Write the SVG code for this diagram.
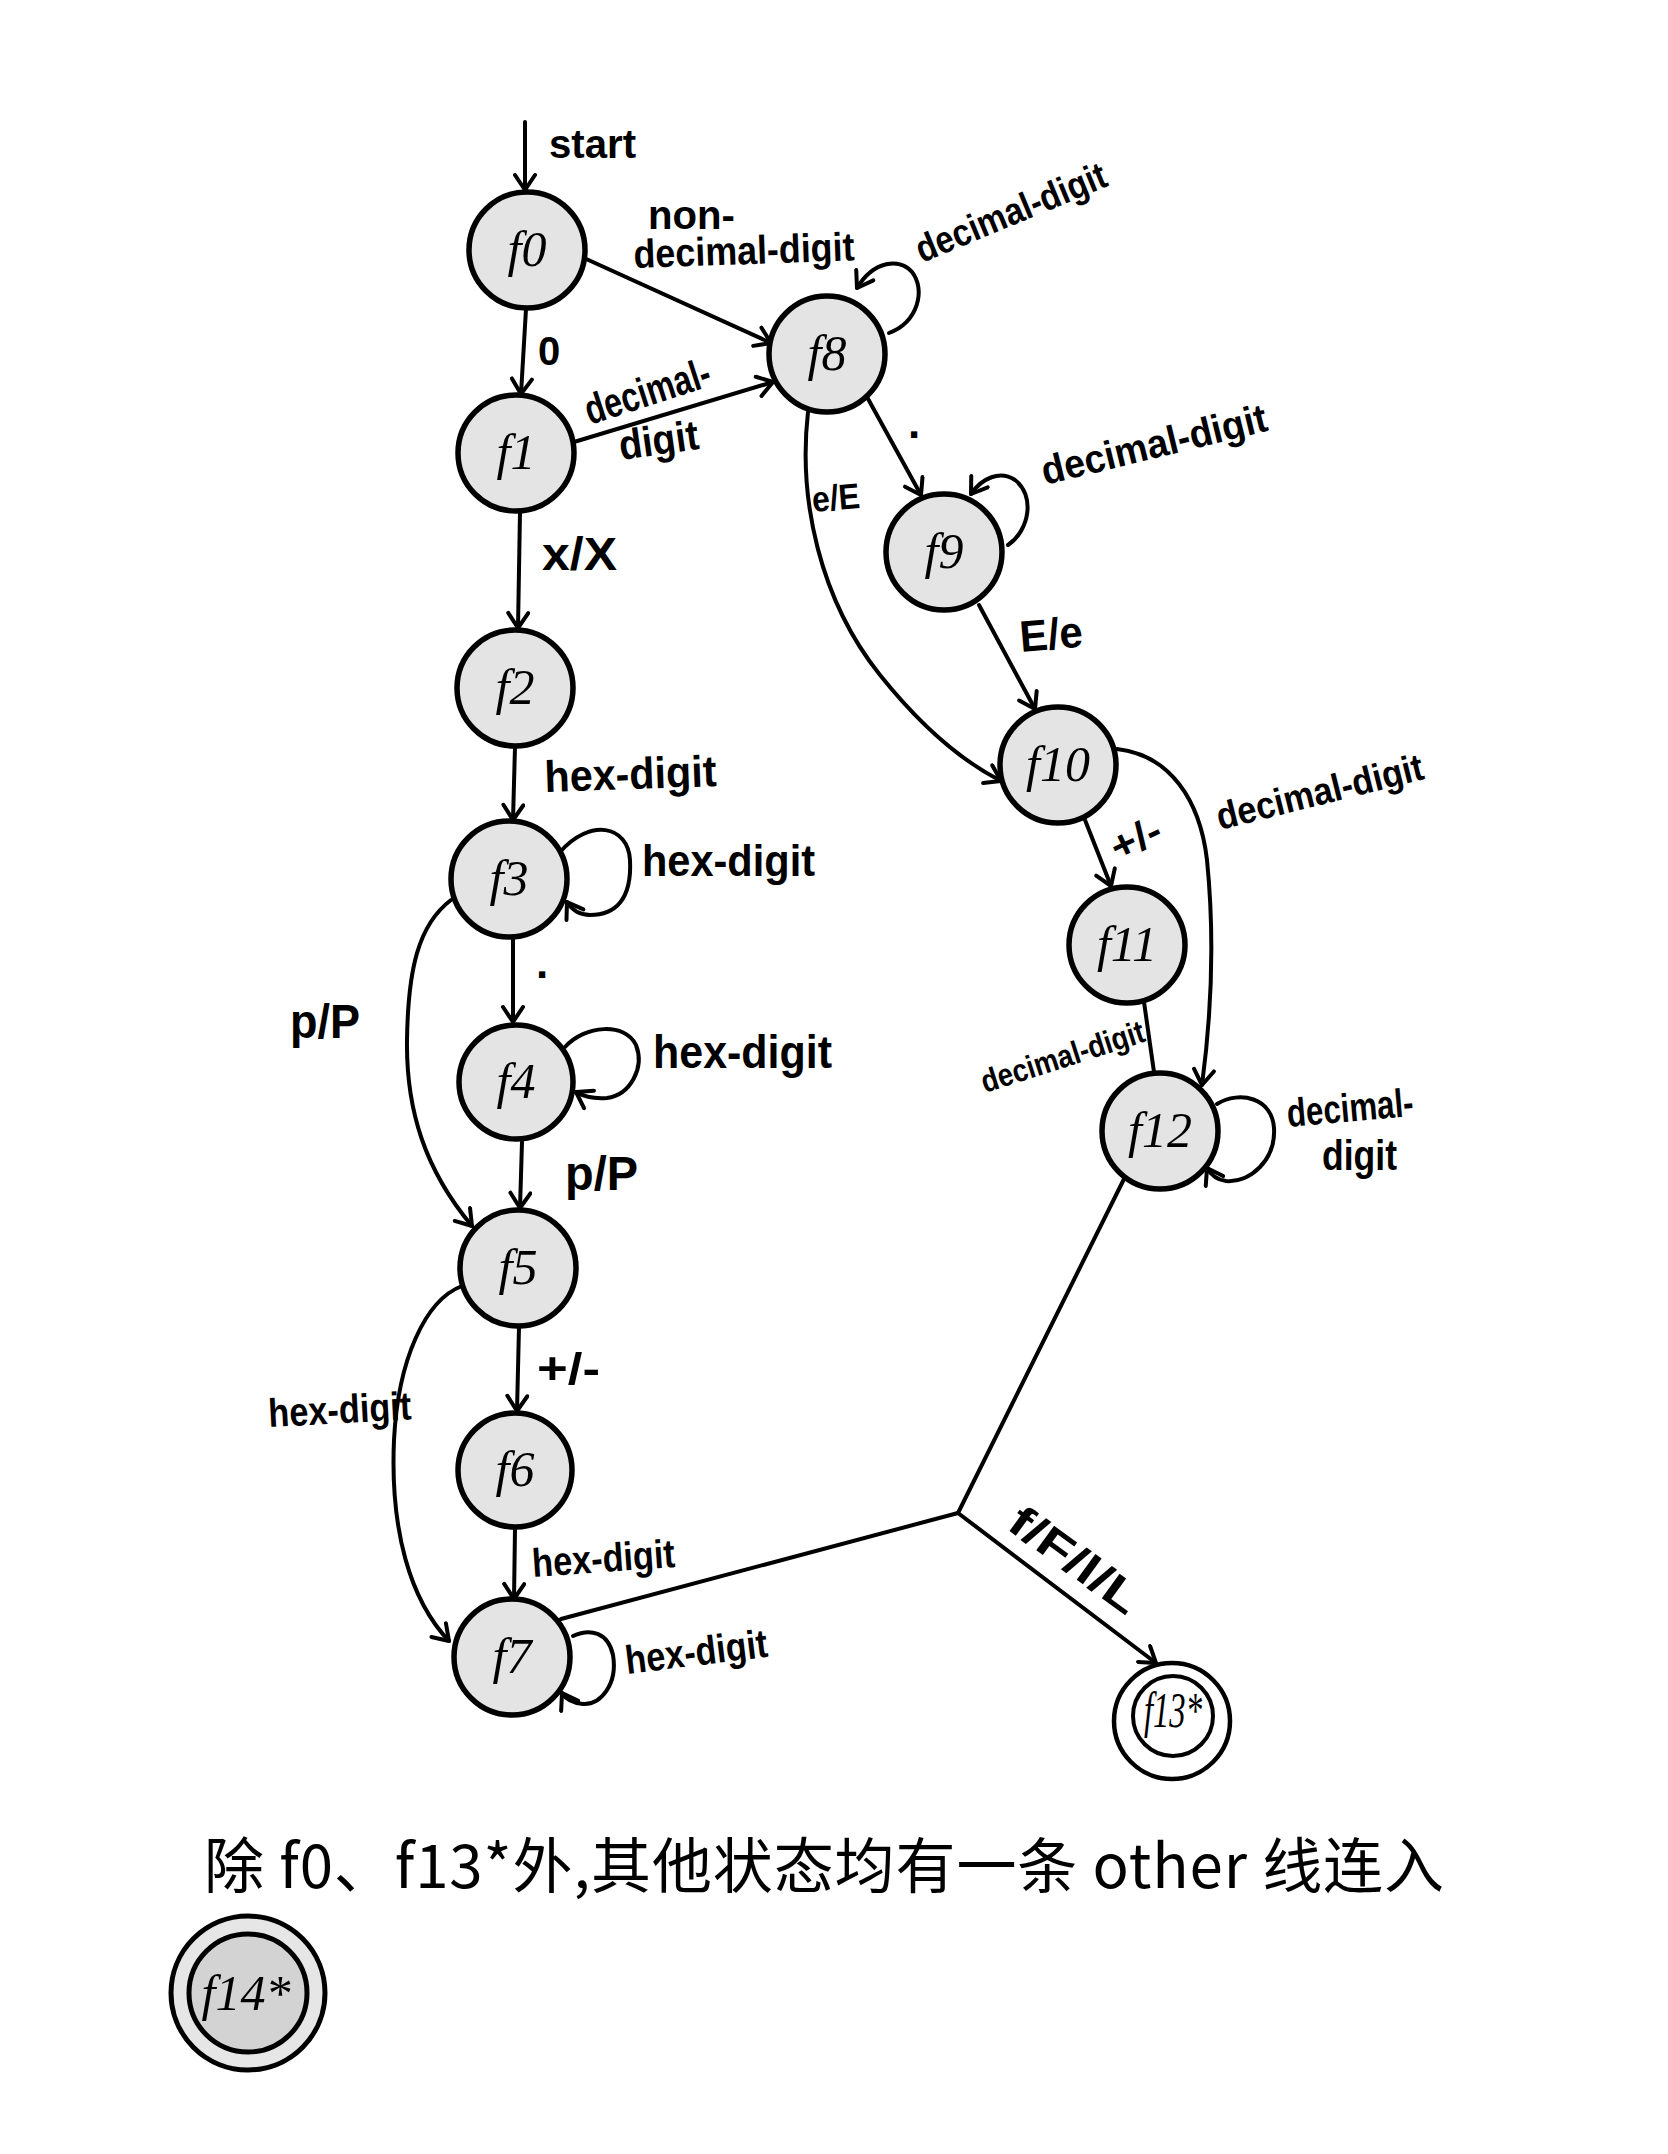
<svg xmlns="http://www.w3.org/2000/svg" width="1668" height="2154" viewBox="0 0 1668 2154">
<style>
.node circle{fill:#e4e4e4;stroke:#000;stroke-width:5.5}
.nl{font-family:"Liberation Serif","DejaVu Serif",serif;font-style:italic;font-size:50px;text-anchor:middle;fill:#000}
.edge{fill:none;stroke:#000;stroke-width:4;stroke-linecap:round;stroke-linejoin:round}
.arr{marker-end:url(#ah)}
.lbl{font-family:"Liberation Sans",Arial,sans-serif;font-weight:bold;fill:#000}
.cap{font-family:"Noto Sans CJK SC","Noto Sans CJK TC",sans-serif;font-size:60px;fill:#000}
</style>
<defs>
<marker id="ah" viewBox="0 0 24 24" refX="20" refY="12" markerWidth="24" markerHeight="24" markerUnits="userSpaceOnUse" orient="auto">
<path d="M5,2 L20,12 L5,22" fill="none" stroke="#000" stroke-width="4" stroke-linecap="round" stroke-linejoin="round"/>
</marker>
</defs>
<rect width="1668" height="2154" fill="#fff"/>

<g id="connectors">
<path class="edge arr" d="M525,122 L525,190"/>
<path class="edge arr" d="M526,309 L521,394"/>
<path class="edge arr" d="M584,258 L771,343"/>
<path class="edge arr" d="M574,442 L773,382"/>
<path class="edge arr" d="M520,512 L518,628"/>
<path class="edge arr" d="M515,747 L513,820"/>
<path class="edge arr" d="M560,852 C590,818 628,825 630,860 C632,900 615,915 590,915 C580,915 572,910 567,902"/>
<path class="edge arr" d="M513,938 L513,1022"/>
<path class="edge arr" d="M565,1047 C585,1025 625,1022 636,1045 C645,1068 630,1095 607,1098 C595,1099 583,1096 576,1092"/>
<path class="edge arr" d="M522,1142 L520,1208"/>
<path class="edge arr" d="M451,900 C418,925 408,970 407,1040 C406,1110 425,1170 472,1226"/>
<path class="edge arr" d="M519,1327 L517,1411"/>
<path class="edge arr" d="M462,1286 C425,1300 398,1360 394,1440 C390,1530 410,1600 449,1641"/>
<path class="edge arr" d="M515,1529 L514,1599"/>
<path class="edge arr" d="M573,1636 C590,1628 608,1632 613,1655 C618,1685 600,1705 583,1704 C572,1703 565,1698 562,1693"/>
<path class="edge" d="M561,1619 L958,1513"/>
<path class="edge arr" d="M1124,1179 L958,1513 L1156,1663"/>
<path class="edge arr" d="M889,333 C918,322 926,290 912,272 C900,258 874,260 857,288"/>
<path class="edge arr" d="M867,397 L921,495"/>
<path class="edge arr" d="M808,412 C798,500 820,600 880,675 C920,725 960,760 1001,781"/>
<path class="edge arr" d="M1008,545 C1030,530 1035,495 1015,480 C1000,470 982,478 971,494"/>
<path class="edge arr" d="M979,605 L1035,709"/>
<path class="edge arr" d="M1085,820 L1111,886"/>
<path class="edge arr" d="M1117,749 C1170,755 1200,800 1207,860 C1214,930 1212,1010 1202,1085"/>
<path class="edge" d="M1144,1002 L1154,1072"/>
<path class="edge arr" d="M1217,1104 C1240,1090 1272,1098 1274,1128 C1276,1160 1250,1183 1226,1181 C1218,1180 1211,1175 1207,1168"/>
</g>

<g id="labels">
<text class="lbl" x="549" y="158" font-size="40" textLength="87" lengthAdjust="spacingAndGlyphs">start</text>
<text class="lbl" x="648" y="229" font-size="40" textLength="87" lengthAdjust="spacingAndGlyphs">non-</text>
<text class="lbl" x="634" y="268" font-size="40" textLength="221" lengthAdjust="spacingAndGlyphs" transform="rotate(-2 634 268)">decimal-digit</text>
<text class="lbl" x="922" y="263" font-size="38" textLength="203" lengthAdjust="spacingAndGlyphs" transform="rotate(-22.5 922 263)">decimal-digit</text>
<text class="lbl" x="538" y="365" font-size="40">0</text>
<text class="lbl" x="590" y="425" font-size="42" textLength="130" lengthAdjust="spacingAndGlyphs" transform="rotate(-18 590 425)">decimal-</text>
<text class="lbl" x="621" y="460" font-size="42" textLength="80" lengthAdjust="spacingAndGlyphs" transform="rotate(-8 621 460)">digit</text>
<text class="lbl" x="542" y="570" font-size="46" textLength="75" lengthAdjust="spacingAndGlyphs">x/X</text>
<text class="lbl" x="545" y="792" font-size="44" textLength="172" lengthAdjust="spacingAndGlyphs" transform="rotate(-2 545 792)">hex-digit</text>
<text class="lbl" x="642" y="876" font-size="44" textLength="173" lengthAdjust="spacingAndGlyphs">hex-digit</text>
<text class="lbl" x="536" y="978" font-size="44">.</text>
<text class="lbl" x="653" y="1068" font-size="46" textLength="179" lengthAdjust="spacingAndGlyphs">hex-digit</text>
<text class="lbl" x="565" y="1190" font-size="48" textLength="73" lengthAdjust="spacingAndGlyphs">p/P</text>
<text class="lbl" x="290" y="1038" font-size="48" textLength="70" lengthAdjust="spacingAndGlyphs">p/P</text>
<text class="lbl" x="537" y="1384" font-size="44" textLength="63" lengthAdjust="spacingAndGlyphs">+/-</text>
<text class="lbl" x="269" y="1427" font-size="40" textLength="143" lengthAdjust="spacingAndGlyphs" transform="rotate(-3 269 1427)">hex-digit</text>
<text class="lbl" x="533" y="1577" font-size="40" textLength="143" lengthAdjust="spacingAndGlyphs" transform="rotate(-4 533 1577)">hex-digit</text>
<text class="lbl" x="627" y="1674" font-size="40" textLength="143" lengthAdjust="spacingAndGlyphs" transform="rotate(-7 627 1674)">hex-digit</text>
<text class="lbl" x="908" y="438" font-size="44">.</text>
<text class="lbl" x="813" y="512" font-size="36" textLength="48" lengthAdjust="spacingAndGlyphs" transform="rotate(-5 813 512)">e/E</text>
<text class="lbl" x="1045" y="485" font-size="40" textLength="231" lengthAdjust="spacingAndGlyphs" transform="rotate(-13.7 1045 485)">decimal-digit</text>
<text class="lbl" x="1021" y="652" font-size="44" textLength="63" lengthAdjust="spacingAndGlyphs" transform="rotate(-5 1021 652)">E/e</text>
<text class="lbl" x="1220" y="830" font-size="38" textLength="212" lengthAdjust="spacingAndGlyphs" transform="rotate(-14 1220 830)">decimal-digit</text>
<text class="lbl" x="1118" y="862" font-size="40" textLength="52" lengthAdjust="spacingAndGlyphs" transform="rotate(-25 1118 862)">+/-</text>
<text class="lbl" x="985" y="1093" font-size="32" textLength="170" lengthAdjust="spacingAndGlyphs" transform="rotate(-17.8 985 1093)">decimal-digit</text>
<text class="lbl" x="1288" y="1127" font-size="40" textLength="127" lengthAdjust="spacingAndGlyphs" transform="rotate(-5 1288 1127)">decimal-</text>
<text class="lbl" x="1322" y="1170" font-size="42" textLength="75" lengthAdjust="spacingAndGlyphs">digit</text>
<text class="lbl" x="1066" y="1572" font-size="44" textLength="150" lengthAdjust="spacingAndGlyphs" text-anchor="middle" transform="rotate(36 1066 1572)">f/F/l/L</text>
</g>

<g id="f0" class="node"><circle cx="527" cy="250" r="58"/><text class="nl" x="527" y="266">f0</text></g>
<g id="f1" class="node"><circle cx="516" cy="453" r="58"/><text class="nl" x="516" y="469">f1</text></g>
<g id="f2" class="node"><circle cx="515" cy="688" r="58"/><text class="nl" x="515" y="704">f2</text></g>
<g id="f3" class="node"><circle cx="509" cy="879" r="58"/><text class="nl" x="509" y="895">f3</text></g>
<g id="f4" class="node"><circle cx="516" cy="1082" r="57"/><text class="nl" x="516" y="1098">f4</text></g>
<g id="f5" class="node"><circle cx="518" cy="1268" r="58"/><text class="nl" x="518" y="1284">f5</text></g>
<g id="f6" class="node"><circle cx="515" cy="1470" r="57"/><text class="nl" x="515" y="1486">f6</text></g>
<g id="f7" class="node"><circle cx="512" cy="1657" r="58"/><text class="nl" x="512" y="1673">f7</text></g>
<g id="f8" class="node"><circle cx="827" cy="354" r="58"/><text class="nl" x="827" y="370">f8</text></g>
<g id="f9" class="node"><circle cx="944" cy="552" r="58"/><text class="nl" x="944" y="568">f9</text></g>
<g id="f10" class="node"><circle cx="1058" cy="765" r="58"/><text class="nl" x="1058" y="781">f10</text></g>
<g id="f11" class="node"><circle cx="1127" cy="945" r="58"/><text class="nl" x="1127" y="961">f11</text></g>
<g id="f12" class="node"><circle cx="1160" cy="1131" r="58"/><text class="nl" x="1160" y="1147">f12</text></g>
<g id="f13" class="node">
<circle cx="1172" cy="1721" r="58" style="fill:#fff;stroke-width:4.5"/>
<circle cx="1173" cy="1716" r="40" style="fill:#fff;stroke-width:4"/>
<text class="nl" x="1173" y="1727" font-size="30" textLength="58" lengthAdjust="spacingAndGlyphs">f13*</text>
</g>
<g id="f14" class="node">
<circle cx="248" cy="1993" r="77" style="fill:#e6e6e6;stroke-width:5"/>
<circle cx="248" cy="1993" r="59" style="fill:#d3d3d3;stroke-width:5"/>
<text class="nl" x="246" y="2010" font-size="46">f14*</text>
</g>

<g id="caption">
<text class="cap" x="204" y="1888" textLength="1240" lengthAdjust="spacing">除 f0、f13*外,其他状态均有一条 other 线连入</text>
</g>
</svg>
